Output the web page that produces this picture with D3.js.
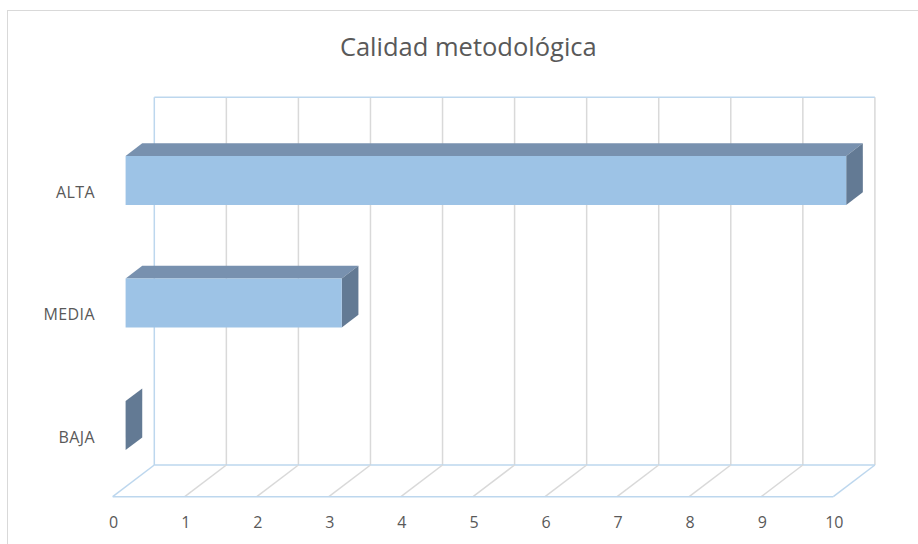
<!DOCTYPE html>
<html>
<head>
<meta charset="utf-8">
<script src="https://cdn.jsdelivr.net/npm/d3@7/dist/d3.min.js"></script>
<style>
  html, body { margin: 0; padding: 0; background: #ffffff; }
  svg { display: block; }
  text { font-family: "Open Sans", "Liberation Sans", sans-serif; fill: #595959; }
</style>
</head>
<body>
<svg id="chart" width="918" height="544"></svg>
<script>
// ---- data ----
const categories = ["ALTA", "MEDIA", "BAJA"];
const values = [10, 3, 0];
const xTicks = [0, 1, 2, 3, 4, 5, 6, 7, 8, 9, 10];
const title = "Calidad metodológica";

// ---- layout ----
const W = 918, H = 544;
const svg = d3.select("#chart");

svg.append("rect")
  .attr("x", 7.5).attr("y", 10.5)
  .attr("width", W + 20).attr("height", H + 20)
  .attr("fill", "#ffffff").attr("stroke", "#D9D9D9").attr("stroke-width", 1);

const depth = { dx: 41.6, dy: -31.7 };
const x = d3.scaleLinear().domain([0, 10]).range([112.7, 833.3]);
const y = d3.scaleBand().domain(categories).range([129.0, 496.7])
  .paddingInner(0.6).paddingOuter(0.3);
const floorY = 496.7, topY = 129.0;

function P(v, yy, z) { return [x(v) + z * depth.dx, yy + z * depth.dy]; }
const line = d3.line();

const gridGray = "#D9D9D9";
const axisBlue = "#BDD7EE";

const g = svg.append("g");
xTicks.forEach(t => {
  const a = P(t, floorY, 1), b = P(t, topY, 1);
  g.append("path").attr("d", line([a, b]))
    .attr("stroke", t === 0 ? axisBlue : gridGray)
    .attr("stroke-width", 1.5).attr("fill", "none");
});
g.append("path").attr("d", line([P(0, topY, 1), P(10, topY, 1)]))
  .attr("stroke", axisBlue).attr("stroke-width", 1.5).attr("fill", "none");
g.append("path").attr("d", line([P(0, floorY, 1), P(10, floorY, 1)]))
  .attr("stroke", axisBlue).attr("stroke-width", 1.5).attr("fill", "none");

xTicks.forEach(t => {
  g.append("path").attr("d", line([P(t, floorY, 0), P(t, floorY, 1)]))
    .attr("stroke", (t === 0 || t === 10) ? axisBlue : gridGray)
    .attr("stroke-width", 1.5).attr("fill", "none");
});
g.append("path").attr("d", line([P(0, floorY, 0), P(10, floorY, 0)]))
  .attr("stroke", axisBlue).attr("stroke-width", 1.5).attr("fill", "none");

const z0 = 0.31, z1 = 0.71;
const colFront = "#9DC3E6", colTop = "#7891AF", colSide = "#637A94";
const bars = svg.append("g");
categories.forEach((c, i) => {
  const v = values[i];
  const yt = y(c), yb = y(c) + y.bandwidth();
  if (v > 0) {
    bars.append("path")
      .attr("d", line([P(0, yt, z0), P(v, yt, z0), P(v, yt, z1), P(0, yt, z1)]) + "Z")
      .attr("fill", colTop);
  }
  bars.append("path")
    .attr("d", line([P(v, yt, z0), P(v, yt, z1), P(v, yb, z1), P(v, yb, z0)]) + "Z")
    .attr("fill", colSide);
  if (v > 0) {
    bars.append("path")
      .attr("d", line([P(0, yt, z0), P(v, yt, z0), P(v, yb, z0), P(0, yb, z0)]) + "Z")
      .attr("fill", colFront);
  }
});

svg.append("g").selectAll("text").data(xTicks).join("text")
  .attr("x", d => x(d) + 1)
  .attr("y", 527.5)
  .attr("text-anchor", "middle")
  .attr("font-size", 16)
  .text(d => d);

svg.append("g").selectAll("text").data(categories).join("text")
  .attr("x", 95)
  .attr("y", d => y(d) + y.bandwidth() / 2 + 7.5)
  .attr("text-anchor", "end")
  .attr("font-size", 16)
  .attr("letter-spacing", 0.4)
  .text(d => d);

svg.append("text")
  .attr("x", 468.3).attr("y", 56)
  .attr("text-anchor", "middle")
  .attr("font-size", 25.5)
  .text(title);
</script>
</body>
</html>
